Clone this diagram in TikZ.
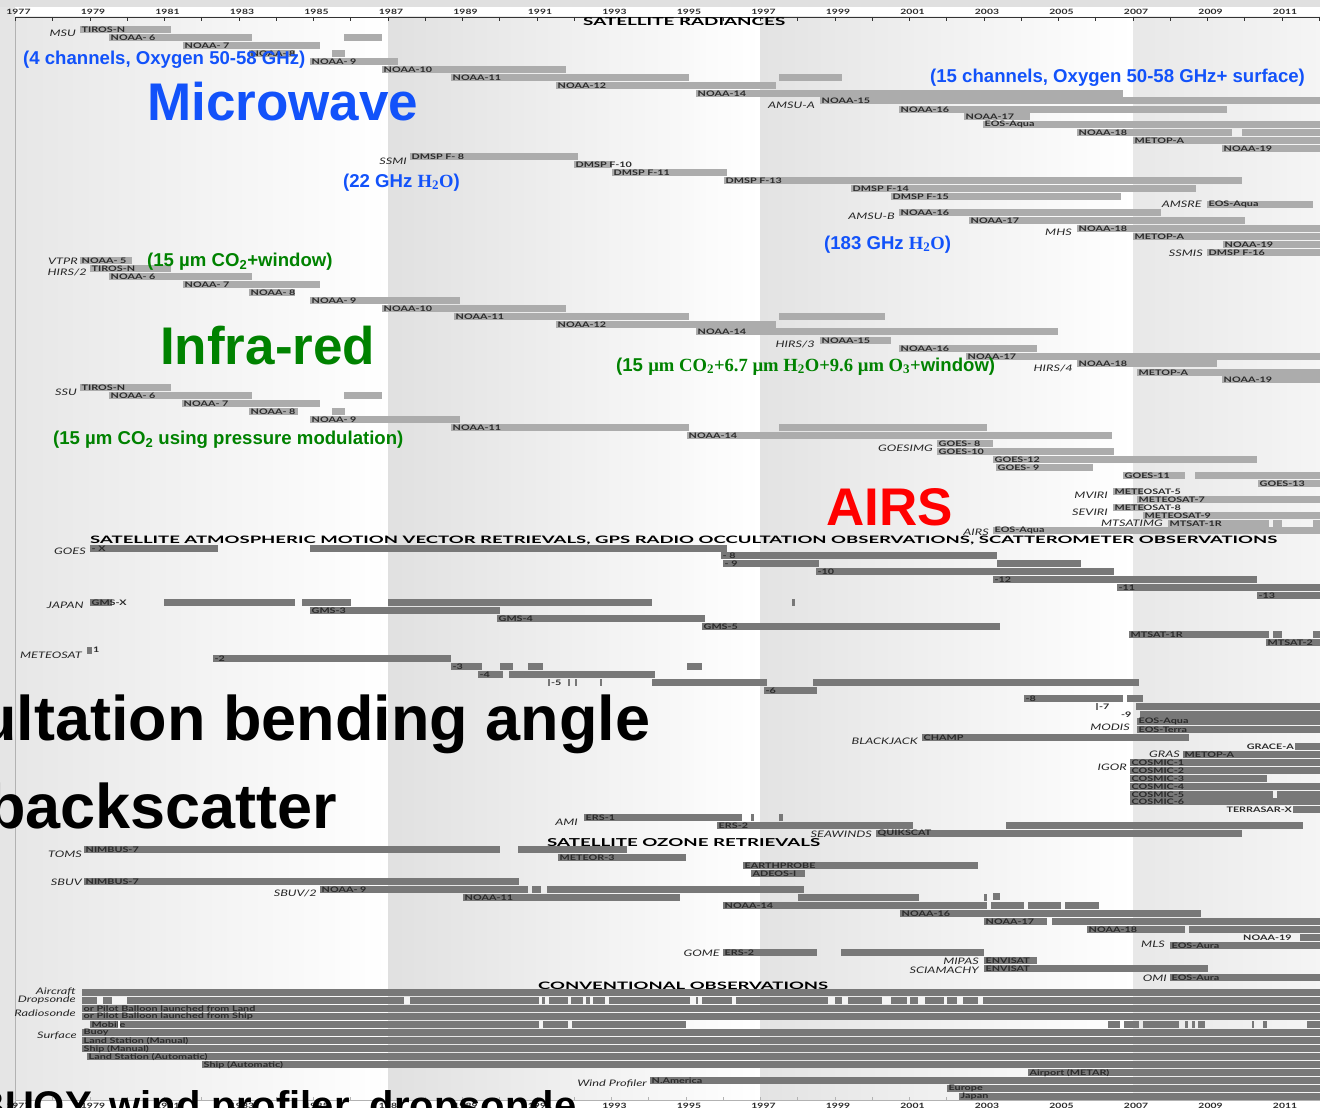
\documentclass[tikz,border=0pt]{standalone}
\usepackage{fontspec}
\usepackage{graphicx}
\setmainfont{Liberation Sans}
\newfontfamily\ar{Liberation Sans}
\newfontfamily\tm{Liberation Serif}
\newfontfamily\gl{Lato}[FakeStretch=1.42]
\newfontfamily\hd{Lato}
\definecolor{lbar}{HTML}{ACACAC}
\definecolor{dbar}{HTML}{787878}
\definecolor{ltxt}{HTML}{2A2A2A}
\definecolor{gapc}{HTML}{F4F4F4}
\definecolor{mwblue}{RGB}{18,82,250}
\definecolor{irgreen}{RGB}{0,130,0}
\newcounter{nd}
\tikzset{
 sat/.style={font=\gl\bfseries\fontsize{7.6}{7.6}\selectfont, text=ltxt, inner sep=0pt, anchor=west},
 satr/.style={sat, anchor=east},
 ins/.style={font=\gl\itshape\fontsize{9}{9}\selectfont, text=black!85, inner sep=0pt, anchor=east},
 big/.style={font=\ar\bfseries\fontsize{53}{53}\selectfont, inner sep=0pt, anchor=base west},
 bigk/.style={font=\ar\bfseries\fontsize{63}{63}\selectfont, inner sep=0pt, anchor=base west, text=black},
 note/.style={font=\ar\bfseries\fontsize{18.6}{18.6}\selectfont, inner sep=0pt, anchor=base west},
 hdr/.style={inner sep=0pt, anchor=north west, text=black},
 yr/.style={font=\gl\bfseries\fontsize{7.3}{7.3}\selectfont, text=ltxt, inner sep=0pt},
}
\newcommand\Lb[4]{\stepcounter{nd}\fill[lbar] (#1,#3) rectangle (#2,#3+7);\node[sat] (b\arabic{nd}) at (#1+1.5,#3+3.7) {#4};}
\newcommand\Db[4]{\stepcounter{nd}\fill[dbar] (#1,#3) rectangle (#2,#3+7);\node[sat] (b\arabic{nd}) at (#1+1.5,#3+3.7) {#4};}
\newcommand\Lp[3]{\fill[lbar] (#1,#3) rectangle (#2,#3+7);}
\newcommand\Dp[3]{\fill[dbar] (#1,#3) rectangle (#2,#3+7);}
\newcommand\Gp[3]{\fill[gapc] (#1,#3) rectangle (#2,#3+7);}
\newcommand\Il[3]{\stepcounter{nd}\node[ins] (i\arabic{nd}) at (#1,#2) {#3};}
\newcommand\St[3]{\stepcounter{nd}\node[sat] (t\arabic{nd}) at (#1,#2) {#3};}
\newcommand\Sr[3]{\stepcounter{nd}\node[satr] (t\arabic{nd}) at (#1,#2) {#3};}
\begin{document}
\begin{tikzpicture}[x=1pt,y=-1pt]
\useasboundingbox (0,0) rectangle (1320,1108);
\clip (0,0) rectangle (1320,1108);
% ---------- background ----------
\fill[white] (0,0) rectangle (1320,1108);
\fill[gray!24] (0,0) rectangle (1320,7);
\fill[gray!20] (0,7) rectangle (15,1108);
\shade[left color=gray!19, right color=white] (15.5,17) rectangle (388,1100);
\shade[left color=gray!24, right color=white] (388,17) rectangle (760.5,1100);
\shade[left color=gray!22, right color=white] (760.5,17) rectangle (1133,1100);
\shade[left color=gray!18, right color=gray!8] (1133,17) rectangle (1320,1100);
\draw[gray!60, line width=0.8] (15,17) -- (15,1108);
% axes
\draw[gray!40!black, line width=0.7] (15.5,17) -- (1320,17);
\draw[gray!60, line width=0.7] (15.5,1100) -- (1320,1100);
\foreach \i in {0,...,35}{
  \draw[gray!40!black, line width=0.6] (15.5+\i*37.25,17) -- ++(0,4);
  \draw[gray!60, line width=0.6] (15.5+\i*37.25,1100) -- ++(0,-3);}
\foreach \i in {0,...,17}{
  \node[yr] (ty\i) at (18.5+\i*74.5,11.5) {\the\numexpr1977+2*\i\relax};
  \node[yr] (by\i) at (18.5+\i*74.5,1106) {\the\numexpr1977+2*\i\relax};}
% ---------- section headers ----------
\node[hdr] (h1) at (583,17.5) {\resizebox{202pt}{8pt}{\hd\bfseries SATELLITE RADIANCES}};
\node[hdr] (h2) at (90,535.5) {\resizebox{1187pt}{7.5pt}{\hd\bfseries SATELLITE ATMOSPHERIC MOTION VECTOR RETRIEVALS, GPS RADIO OCCULTATION OBSERVATIONS, SCATTEROMETER OBSERVATIONS}};
\node[hdr] (h3) at (547,838) {\resizebox{273pt}{8pt}{\hd\bfseries SATELLITE OZONE RETRIEVALS}};
\node[hdr] (h4) at (538,982) {\resizebox{290pt}{7.5pt}{\hd\bfseries CONVENTIONAL OBSERVATIONS}};
% ---------- MSU / AMSU-A ----------
\Il{76}{33}{MSU}
\Lb{80}{171}{26}{TIROS-N}
\Lb{109}{252}{34}{NOAA- 6}
\Lp{344}{382}{34}
\Lb{183}{320}{42}{NOAA- 7}
\Lb{249}{295}{50}{NOAA- 8}
\Lp{332}{345}{50}
\Lb{310}{398}{58}{NOAA- 9}
\Lb{382}{566}{66}{NOAA-10}
\Lb{451}{689}{74}{NOAA-11}
\Lp{779}{842}{74}
\Lb{556}{776}{82}{NOAA-12}
\Lb{696}{1123}{90}{NOAA-14}
\Il{815}{105}{AMSU-A}
\Lb{820}{1320}{97}{NOAA-15}
\Lb{899}{1227}{106}{NOAA-16}
\Lb{964}{1030}{113}{NOAA-17}
\Lb{983}{1320}{121}{EOS-Aqua}
\Lb{1077}{1232}{129}{NOAA-18}
\Lp{1242}{1320}{129}
\Lb{1133}{1320}{137}{METOP-A}
\Lb{1222}{1320}{145}{NOAA-19}
% ---------- SSMI etc ----------
\Il{407}{161}{SSMI}
\Lb{410}{578}{153}{DMSP F- 8}
\Lb{574}{612}{161}{DMSP F-10}
\Lb{612}{727}{169}{DMSP F-11}
\Lb{724}{1242}{177}{DMSP F-13}
\Lb{851}{1196}{185}{DMSP F-14}
\Lb{891}{1121}{193}{DMSP F-15}
\Il{1202}{204}{AMSRE}
\Lb{1207}{1313}{201}{EOS-Aqua}
\Il{895}{216}{AMSU-B}
\Lb{899}{1161}{209}{NOAA-16}
\Lb{969}{1245}{217}{NOAA-17}
\Il{1072}{232}{MHS}
\Lb{1077}{1320}{225}{NOAA-18}
\Lb{1133}{1320}{233}{METOP-A}
\Lb{1223}{1320}{241}{NOAA-19}
\Il{1203}{253}{SSMIS}
\Lb{1207}{1320}{249}{DMSP F-16}
% ---------- VTPR / HIRS ----------
\Il{78}{261}{VTPR}
\Lb{80}{132}{257}{NOAA- 5}
\Il{87}{272}{HIRS/2}
\Lb{90}{171}{265}{TIROS-N}
\Lb{109}{252}{273}{NOAA- 6}
\Lb{183}{320}{281}{NOAA- 7}
\Lb{249}{295}{289}{NOAA- 8}
\Lb{310}{460}{297}{NOAA- 9}
\Lb{382}{566}{305}{NOAA-10}
\Lb{454}{689}{313}{NOAA-11}
\Lp{779}{885}{313}
\Lb{556}{776}{321}{NOAA-12}
\Lb{696}{1058}{328}{NOAA-14}
\Il{815}{344}{HIRS/3}
\Lb{820}{891}{337}{NOAA-15}
\Lb{899}{1037}{345}{NOAA-16}
\Lb{966}{1320}{353}{NOAA-17}
\Il{1073}{368}{HIRS/4}
\Lb{1077}{1217}{360}{NOAA-18}
\Lb{1137}{1320}{369}{METOP-A}
\Lb{1222}{1320}{376}{NOAA-19}
% ---------- SSU ----------
\Il{77}{392}{SSU}
\Lb{80}{171}{384}{TIROS-N}
\Lb{109}{252}{392}{NOAA- 6}
\Lp{344}{382}{392}
\Lb{182}{320}{400}{NOAA- 7}
\Lb{249}{298}{408}{NOAA- 8}
\Lp{332}{345}{408}
\Lb{310}{460}{416}{NOAA- 9}
\Lb{451}{689}{424}{NOAA-11}
\Lp{779}{987}{424}
\Lb{687}{1112}{432}{NOAA-14}
% ---------- imagers ----------
\Il{933}{448}{GOESIMG}
\Lb{937}{993}{440}{GOES- 8}
\Lb{937}{1114}{448}{GOES-10}
\Lb{993}{1257}{456}{GOES-12}
\Lb{996}{1093}{464}{GOES- 9}
\Lb{1123}{1185}{472}{GOES-11}
\Lp{1195}{1320}{472}
\Lb{1258}{1320}{480}{GOES-13}
\Il{1108}{495}{MVIRI}
\Lb{1113}{1143}{488}{METEOSAT-5}
\Lb{1137}{1320}{496}{METEOSAT-7}
\Il{1108}{512}{SEVIRI}
\Lb{1113}{1145}{504}{METEOSAT-8}
\Lb{1143}{1320}{512}{METEOSAT-9}
\Il{1163}{523}{MTSATIMG}
\Lb{1168}{1269}{520}{MTSAT-1R}
\Lp{1273}{1282}{520}
\Lp{1313}{1320}{520}
\Il{989}{532}{AIRS}
\Lb{993}{1320}{527}{EOS-Aqua}
% ---------- AMV ----------
\Il{86}{551}{GOES}
\Db{90}{218}{545}{- X}
\Dp{310}{727}{545}
\Db{721}{997}{552}{- 8}
\Db{723}{819}{560}{- 9}
\Dp{997}{1081}{560}
\Db{816}{1114}{568}{-10}
\Db{993}{1257}{576}{-12}
\Db{1117}{1320}{584}{-11}
\Db{1257}{1320}{592}{-13}
\Il{84}{605}{JAPAN}
\Db{90}{112}{599}{GMS-X}
\Dp{164}{295}{599}
\Dp{302}{351}{599}
\Dp{388}{652}{599}
\Dp{792}{795}{599}
\Db{310}{500}{607}{GMS-3}
\Db{497}{705}{615}{GMS-4}
\Db{702}{1000}{623}{GMS-5}
\Db{1129}{1269}{631}{MTSAT-1R}
\Dp{1273}{1282}{631}
\Dp{1313}{1320}{631}
\Db{1266}{1320}{639}{MTSAT-2}
\Il{82}{655}{METEOSAT}
\Dp{87}{92}{647}
\St{93}{650}{1}
\Db{213}{451}{655}{-2}
\Db{451}{482}{663}{-3}
\Dp{500}{513}{663}
\Dp{528}{543}{663}
\Dp{687}{702}{663}
\Db{478}{503}{671}{-4}
\Dp{509}{655}{671}
\Dp{548}{550}{679}
\St{551}{682.7}{-5}
\Dp{568}{570}{679}
\Dp{575}{577}{679}
\Dp{600}{602}{679}
\Dp{652}{767}{679}
\Dp{813}{1139}{679}
\Db{764}{817}{687}{-6}
\Db{1024}{1123}{695}{-8}
\Dp{1127}{1143}{695}
\Dp{1096}{1098}{703}
\St{1099}{706.7}{-7}
\Dp{1136}{1320}{703}
\St{1121}{714.7}{-9}
\Dp{1140}{1320}{711}
\Il{1130}{727}{MODIS}
\Db{1137}{1320}{718}{EOS-Aqua}
\Db{1137}{1320}{726}{EOS-Terra}
\Il{918}{741}{BLACKJACK}
\Db{922}{1189}{734}{CHAMP}
\Sr{1294}{746.7}{GRACE-A}
\Dp{1295}{1320}{743}
\Il{1180}{754}{GRAS}
\Db{1183}{1320}{751}{METOP-A}
\Il{1127}{767}{IGOR}
\Db{1130}{1320}{759}{COSMIC-1}
\Db{1130}{1320}{767}{COSMIC-2}
\Db{1130}{1267}{775}{COSMIC-3}
\Db{1130}{1320}{783}{COSMIC-4}
\Db{1130}{1273}{791}{COSMIC-5}
\Dp{1277}{1320}{791}
\Db{1130}{1320}{798}{COSMIC-6}
\Sr{1292}{810}{TERRASAR-X}
\Dp{1293}{1320}{806}
% scatterometers
\Il{578}{822}{AMI}
\Db{584}{742}{814}{ERS-1}
\Dp{751}{754}{814}
\Dp{779}{783}{814}
\Db{717}{913}{822}{ERS-2}
\Dp{1006}{1303}{822}
\Il{872}{834}{SEAWINDS}
\Db{876}{1242}{830}{QUIKSCAT}
% ---------- ozone ----------
\Il{82}{854}{TOMS}
\Db{84}{500}{846}{NIMBUS-7}
\Dp{518}{627}{846}
\Db{558}{686}{854}{METEOR-3}
\Db{743}{978}{862}{EARTHPROBE}
\Db{751}{805}{870}{ADEOS-I}
\Il{82}{882}{SBUV}
\Db{84}{519}{878}{NIMBUS-7}
\Il{317}{893}{SBUV/2}
\Db{320}{528}{886}{NOAA- 9}
\Dp{532}{541}{886}
\Dp{547}{804}{886}
\Db{463}{680}{894}{NOAA-11}
\Dp{798}{919}{894}
\Dp{984}{987}{894}
\Dp{993}{1000}{893}
\Db{723}{987}{902}{NOAA-14}
\Dp{991}{1024}{902}
\Dp{1028}{1061}{902}
\Dp{1065}{1099}{902}
\Db{900}{1201}{910}{NOAA-16}
\Db{984}{1047}{918}{NOAA-17}
\Dp{1052}{1320}{918}
\Db{1087}{1185}{926}{NOAA-18}
\Dp{1189}{1320}{926}
\St{1243}{937.5}{NOAA-19}
\Dp{1300}{1320}{934}
\Il{1165}{944}{MLS}
\Db{1170}{1320}{942}{EOS-Aura}
\Il{720}{953}{GOME}
\Db{723}{817}{949}{ERS-2}
\Dp{841}{984}{949}
\Il{979}{961}{MIPAS}
\Db{984}{1037}{957}{ENVISAT}
\Il{979}{970}{SCIAMACHY}
\Db{984}{1208}{965}{ENVISAT}
\Il{1167}{978}{OMI}
\Db{1170}{1320}{974}{EOS-Aura}
% ---------- conventional ----------
\Il{76}{992}{Aircraft}
\Dp{82}{1320}{989}
\Il{76}{1000}{Dropsonde}
\Dp{82}{1320}{997}
\foreach \a/\b in {97/103,112/127,404/410,539/542,545/549,568/571,583/586,590/593,605/609,690/696,698/702,732/736,828/835,842/848,882/891,907/910,918/925,944/947,957/963,978/983}{\Gp{\a}{\b}{997}}
\Il{76}{1013}{Radiosonde}
\Db{82}{1320}{1005}{or Pilot Balloon launched from Land}
\Db{82}{1320}{1013}{or Pilot Balloon launched from Ship}
\Db{90}{686}{1021}{Mobile}
\foreach \a/\b in {118/120,539/543,568/572}{\Gp{\a}{\b}{1021}}
\foreach \a/\b in {1108/1120,1124/1139,1143/1179,1185/1188,1192/1195,1198/1205,1252/1254,1263/1267,1307/1320}{\Dp{\a}{\b}{1021}}
\Il{77}{1036}{Surface}
\Db{82}{1320}{1029}{Buoy}
\Db{82}{1320}{1037}{Land Station (Manual)}
\Db{82}{1320}{1045}{Ship (Manual)}
\Db{87}{1320}{1053}{Land Station (Automatic)}
\Db{202}{1320}{1061}{Ship (Automatic)}
\Db{1028}{1320}{1069}{Airport (METAR)}
\Il{647}{1084}{Wind Profiler}
\Db{650}{1320}{1077}{N.America}
\Db{947}{1320}{1085}{Europe}
\Db{959}{1320}{1093}{Japan}
% ---------- overlay annotations ----------
\node[big, text=mwblue] (mw) at (147,120) {Microwave};
\node[big, text=irgreen] (ir) at (160,364) {Infra-red};
\node[big, text=red] (airs) at (826,525) {AIRS};
\node[note, text=mwblue] (n1) at (23,65) {(4 channels, Oxygen 50-58 GHz)};
\node[note, text=mwblue] (n2) at (930,83) {(15 channels, Oxygen 50-58 GHz+ surface)};
\node[note, text=mwblue] (n3) at (343,187) {(22 GHz {\tm H\textsubscript{2}O})};
\node[note, text=mwblue] (n4) at (824,249) {(183 GHz {\tm H\textsubscript{2}O})};
\node[note, text=irgreen] (n5) at (147,266) {(15 µm CO\textsubscript{2}+window)};
\node[note, text=irgreen] (n6) at (616,371) {(15 {\tm µm CO\textsubscript{2}+6.7 µm H\textsubscript{2}O+9.6 µm O\textsubscript{3}+}window)};
\node[note, text=irgreen] (n7) at (53,444) {(15 µm CO\textsubscript{2} using pressure modulation)};
\node[bigk] (k1) at (-22,740) {ultation bending angle};
\node[bigk] (k2) at (-13,828) {backscatter};
\node[bigk, font=\ar\bfseries\fontsize{40}{40}\selectfont] (k3) at (-24,1119) {BUOY, wind profiler, dropsonde};
\end{tikzpicture}
\end{document}
